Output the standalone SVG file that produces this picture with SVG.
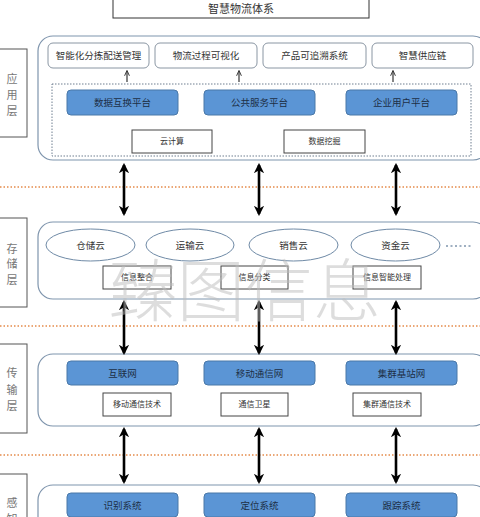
<svg xmlns="http://www.w3.org/2000/svg" width="480" height="517" viewBox="0 0 480 517">
<defs>
<marker id="bh" viewBox="0 0 10 10" refX="8" refY="5" markerWidth="4" markerHeight="4" orient="auto-start-reverse"><path d="M0,0 L10,5 L0,10 L3,5 Z" fill="#000"/></marker>
<marker id="sh" viewBox="0 0 10 10" refX="8" refY="5" markerWidth="5" markerHeight="5" orient="auto"><path d="M0,1 L9,5 L0,9" fill="none" stroke="#333" stroke-width="1.6"/></marker>
</defs>
<style>
text{font-family:"Liberation Sans","Noto Sans CJK SC",sans-serif;text-anchor:middle;dominant-baseline:central;fill:#333}
.t11{font-size:11px}
.t10{font-size:9.5px}
.t8{font-size:8px}
.lay{fill:#fff;stroke:#7f95ad;stroke-width:1.2}
.lbl{fill:#fff;stroke:#555;stroke-width:1}
.ltx{font-size:11px;fill:#777}
.top{fill:#fff;stroke:#8a96a3;stroke-width:1}
.blue{fill:#5b95d5;stroke:#4a78a8;stroke-width:1}
.blue+text{fill:#1d2f45}
.wb{fill:#fff;stroke:#444;stroke-width:1}
.ell{fill:#fff;stroke:#6f8aa6;stroke-width:1}
.big{stroke:#000;stroke-width:2.6;fill:none;marker-start:url(#bh);marker-end:url(#bh)}
.sm{stroke:#333;stroke-width:1.2;fill:none;marker-end:url(#sh)}
.sep{stroke:#e58a4a;stroke-width:1.5;stroke-dasharray:1.5 2}
</style>
<rect width="480" height="517" fill="#fff"/>

<g id="title"><rect x="113" y="-2" width="256" height="20" fill="#fff" stroke="#333"/><text x="241" y="9" class="t11">智慧物流体系</text></g>

<g id="separators">
<line x1="0" y1="187" x2="480" y2="187" class="sep"/>
<line x1="0" y1="326" x2="480" y2="326" class="sep"/>
<line x1="0" y1="455" x2="480" y2="455" class="sep"/>
</g>

<g id="app-layer">
<rect x="-2" y="49" width="29" height="88" class="lbl"/>
<text x="12" y="79" class="ltx">应</text><text x="12" y="95" class="ltx">用</text><text x="12" y="111" class="ltx">层</text>
<rect x="38" y="36" width="450" height="124" rx="15" class="lay"/>
<g id="app1"><rect x="48" y="43" width="101" height="25" rx="5" class="top"/><text x="98.5" y="55.5" class="t10">智能化分拣配送管理</text></g>
<g id="app2"><rect x="155" y="43" width="102" height="25" rx="5" class="top"/><text x="206" y="55.5" class="t10">物流过程可视化</text></g>
<g id="app3"><rect x="263" y="43" width="103" height="25" rx="5" class="top"/><text x="314.5" y="55.5" class="t10">产品可追溯系统</text></g>
<g id="app4"><rect x="372" y="43" width="101" height="25" rx="5" class="top"/><text x="422.5" y="55.5" class="t10">智慧供应链</text></g>
<rect x="52" y="84" width="419" height="72" fill="none" stroke="#6f7f90" stroke-width="1" stroke-dasharray="1.5 1.5"/>
<g id="plat1"><rect x="67" y="90" width="111" height="25" rx="4" class="blue"/><text x="122.5" y="102.5" class="t10">数据互换平台</text></g>
<g id="plat2"><rect x="204" y="90" width="111" height="25" rx="4" class="blue"/><text x="259.5" y="102.5" class="t10">公共服务平台</text></g>
<g id="plat3"><rect x="346" y="90" width="111" height="25" rx="4" class="blue"/><text x="401.5" y="102.5" class="t10">企业用户平台</text></g>
<g id="cloud"><rect x="132" y="130" width="80" height="23" class="wb"/><text x="172" y="141.5" class="t8">云计算</text></g>
<g id="mining"><rect x="284" y="130" width="81" height="23" class="wb"/><text x="324.5" y="141.5" class="t8">数据挖掘</text></g>
</g>

<g id="storage-layer">
<rect x="-2" y="218" width="29" height="89" class="lbl"/>
<text x="12" y="249" class="ltx">存</text><text x="12" y="264" class="ltx">储</text><text x="12" y="280" class="ltx">层</text>
<rect x="38" y="222" width="450" height="77" rx="15" class="lay"/>
<g id="c1"><ellipse cx="90.5" cy="245" rx="44.5" ry="16" class="ell"/><text x="90.5" y="245" class="t10">仓储云</text></g>
<g id="c2"><ellipse cx="190" cy="245" rx="44" ry="16" class="ell"/><text x="190" y="245" class="t10">运输云</text></g>
<g id="c3"><ellipse cx="293.5" cy="245" rx="44.5" ry="16" class="ell"/><text x="293.5" y="245" class="t10">销售云</text></g>
<g id="c4"><ellipse cx="395.5" cy="245" rx="44.5" ry="16" class="ell"/><text x="395.5" y="245" class="t10">资金云</text></g>
<line x1="446" y1="246" x2="473" y2="246" stroke="#7f95ad" stroke-width="1.5" stroke-dasharray="2 2.5"/>
<g id="s1"><rect x="103" y="266" width="68" height="23" class="wb"/><text x="137" y="277.5" class="t8">信息整合</text></g>
<g id="s2"><rect x="221" y="266" width="67" height="23" class="wb"/><text x="254.5" y="277.5" class="t8">信息分类</text></g>
<g id="s3"><rect x="353" y="266" width="68" height="23" class="wb"/><text x="387" y="277.5" class="t8">信息智能处理</text></g>
</g>

<g id="trans-layer">
<rect x="-2" y="344" width="29" height="89" class="lbl"/>
<text x="12" y="373" class="ltx">传</text><text x="12" y="390" class="ltx">输</text><text x="12" y="406" class="ltx">层</text>
<rect x="38" y="354" width="450" height="72" rx="15" class="lay"/>
<g id="n1"><rect x="67" y="361" width="111" height="24" rx="4" class="blue"/><text x="122.5" y="373" class="t10">互联网</text></g>
<g id="n2"><rect x="204" y="361" width="111" height="24" rx="4" class="blue"/><text x="259.5" y="373" class="t10">移动通信网</text></g>
<g id="n3"><rect x="346" y="361" width="111" height="24" rx="4" class="blue"/><text x="401.5" y="373" class="t10">集群基站网</text></g>
<g id="w1"><rect x="103" y="393" width="68" height="23" class="wb"/><text x="137" y="404.5" class="t8">移动通信技术</text></g>
<g id="w2"><rect x="221" y="393" width="67" height="23" class="wb"/><text x="254.5" y="404.5" class="t8">通信卫星</text></g>
<g id="w3"><rect x="353" y="393" width="68" height="23" class="wb"/><text x="387" y="404.5" class="t8">集群通信技术</text></g>
</g>

<g id="perc-layer">
<rect x="-2" y="474" width="29" height="60" class="lbl"/>
<text x="12" y="503" class="ltx">感</text><text x="12" y="519" class="ltx">知</text>
<rect x="38" y="485" width="450" height="60" rx="15" class="lay"/>
<g id="p1"><rect x="67" y="493" width="111" height="24" rx="4" class="blue"/><text x="122.5" y="505" class="t10">识别系统</text></g>
<g id="p2"><rect x="204" y="493" width="111" height="24" rx="4" class="blue"/><text x="259.5" y="505" class="t10">定位系统</text></g>
<g id="p3"><rect x="346" y="493" width="111" height="24" rx="4" class="blue"/><text x="401.5" y="505" class="t10">跟踪系统</text></g>
</g>

<g id="connectors">
<line x1="127" y1="82" x2="127" y2="71" class="sm"/>
<line x1="239" y1="82" x2="239" y2="71" class="sm"/>
<line x1="393" y1="82" x2="393" y2="71" class="sm"/>
<line x1="124" y1="165" x2="124" y2="214" class="big"/>
<line x1="259" y1="165" x2="259" y2="214" class="big"/>
<line x1="396" y1="165" x2="396" y2="214" class="big"/>
<line x1="124" y1="302" x2="124" y2="353" class="big"/>
<line x1="259" y1="302" x2="259" y2="353" class="big"/>
<line x1="396" y1="302" x2="396" y2="353" class="big"/>
<line x1="124" y1="429" x2="124" y2="482" class="big"/>
<line x1="259" y1="429" x2="259" y2="482" class="big"/>
<line x1="396" y1="429" x2="396" y2="482" class="big"/>
</g>

<text x="245" y="286" style="font-family:'Noto Sans CJK SC',sans-serif;font-size:68px;font-weight:300;fill:#bbb;fill-opacity:0.5">臻图信息</text>
</svg>
